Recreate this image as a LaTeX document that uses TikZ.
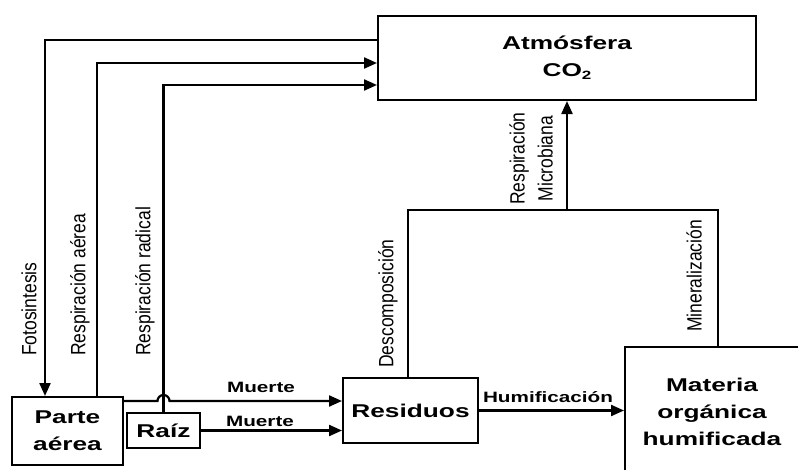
\documentclass[tikz,border=0pt]{standalone}
\usepackage{fontspec}
\setmainfont{Liberation Sans}
\usepackage{graphicx}
\usetikzlibrary{arrows.meta}
\newcommand\wl[1]{\scalebox{1.42}[1]{#1}}
\newcommand\wm[1]{\scalebox{1.38}[1]{#1}}
\newcommand\wv[1]{\scalebox{1}[1.18]{#1}}
\begin{document}
\begin{tikzpicture}[x=1pt,y=-1pt,
  box/.style={draw, line width=2pt, inner sep=0pt, align=center,
    font=\fontsize{18.5}{27}\selectfont\bfseries},
  lab/.style={inner sep=0pt, font=\fontsize{15}{15}\selectfont\bfseries},
  vlab/.style={rotate=90, anchor=west, inner sep=0pt, align=center,
    font=\fontsize{17.5}{28}\selectfont},
  conn/.style={line width=2.2pt},
  arr/.style={conn, -{Triangle[length=13pt,width=11pt]}}]
\useasboundingbox (0,0) rectangle (798,469);
\clip (0,0) rectangle (798,469);
% boxes
\node[box, minimum width=378pt, minimum height=84pt] (atm) at (567,58)
  {\wl{Atmósfera}\\\wl{CO\raisebox{-0.35ex}{\fontsize{12}{12}\selectfont 2}}};
\node[box, minimum width=111pt, minimum height=68pt] (parte) at (67.5,431)
  {\wl{Parte}\\\wl{aérea}};
\node[box, minimum width=73pt, minimum height=35pt] (raiz) at (163.5,430.5)
  {\wl{Raíz}};
\node[box, minimum width=135pt, minimum height=65pt] (res) at (410.5,410.5)
  {\wl{Residuos}};
\node[box, minimum width=174pt, minimum height=130pt] (mat) at (712,412)
  {\wl{Materia}\\\wl{orgánica}\\\wl{humificada}};
% coordinates
\coordinate (fk) at (45,40);
\coordinate (ra) at (97,63);
\coordinate (rr) at (163.5,85);
\coordinate (m1) at (0,401);
\coordinate (hop) at (157.5,401);
\coordinate (d1) at (408,210);
\coordinate (d2) at (718,210);
% connectors
\draw[arr] (atm.west |- fk) -- (fk) -- (fk |- parte.north);
\draw[arr] (ra |- parte.north) -- (ra) -- (ra -| atm.west);
\draw[arr] (raiz.north) -- (rr) -- (rr -| atm.west);
\draw[arr] (parte.east |- m1) -- (hop) arc[start angle=180, end angle=360, radius=6] -- (res.west |- m1);
\draw[arr] (raiz.east) -- (res.west |- raiz.east);
\draw[arr] (res.east) -- (mat.west |- res.east);
\draw[conn] (d1 |- res.north) -- (d1) -- (d2) -- (d2 |- mat.north);
\draw[arr] (atm.south |- d1) -- (atm.south);
% labels
\node[lab] (lm1) at (261,387) {\wm{Muerte}};
\node[lab] (lm2) at (260,421) {\wm{Muerte}};
\node[lab] (lh) at (548,397) {\wm{Humificación}};
\node[vlab] (lf) at (29,356) {\wv{Fotosintesis}};
\node[vlab] (lra) at (80,356) {\wv{Respiración aérea}};
\node[vlab] (lrr) at (145,356) {\wv{Respiración radical}};
\node[vlab] (ld) at (388,368) {\wv{Descomposición}};
\node[vlab] (lmi) at (694,332) {\wv{Mineralización}};
\node[vlab] (lrm) at (531,205) {\wv{Respiración}\\\wv{Microbiana}};
\end{tikzpicture}
\end{document}
